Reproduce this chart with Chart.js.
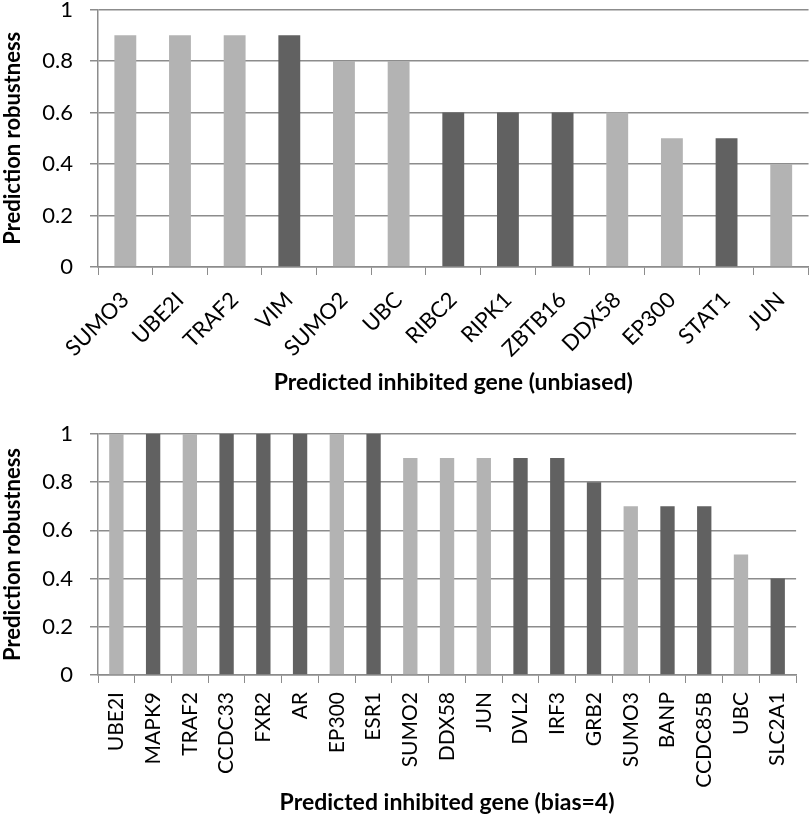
<!DOCTYPE html>
<html>
<head>
<meta charset="utf-8">
<script src="https://cdn.jsdelivr.net/npm/chart.js@4"></script>
<style>
  html, body { margin: 0; padding: 0; background: #fff; }
  body { width: 812px; height: 819px; position: relative; overflow: hidden; }
  .box { position: absolute; left: 0; width: 812px; }
</style>
</head>
<body>
<div class="box" style="top:-21px;height:421px"><canvas id="topChart"></canvas></div>
<div class="box" style="top:400px;height:419px"><canvas id="bottomChart"></canvas></div>
<script>
// unbiased run
const unbiasedGenes = ["SUMO3", "UBE2I", "TRAF2", "VIM", "SUMO2", "UBC", "RIBC2", "RIPK1", "ZBTB16", "DDX58", "EP300", "STAT1", "JUN"];
const unbiasedValues = [0.9, 0.9, 0.9, 0.9, 0.8, 0.8, 0.6, 0.6, 0.6, 0.6, 0.5, 0.5, 0.4];
const unbiasedDark = [0, 0, 0, 1, 0, 0, 1, 1, 1, 0, 0, 1, 0];

// bias=4 run
const biasGenes = ["UBE2I", "MAPK9", "TRAF2", "CCDC33", "FXR2", "AR", "EP300", "ESR1", "SUMO2", "DDX58", "JUN", "DVL2", "IRF3", "GRB2", "SUMO3", "BANP", "CCDC85B", "UBC", "SLC2A1"];
const biasValues = [1, 1, 1, 1, 1, 1, 1, 1, 0.9, 0.9, 0.9, 0.9, 0.9, 0.8, 0.7, 0.7, 0.7, 0.5, 0.4];
const biasDark = [0, 1, 0, 1, 1, 1, 0, 1, 0, 0, 0, 1, 1, 1, 0, 1, 1, 0, 1];

const yTicks = [0, 0.2, 0.4, 0.6, 0.8, 1];

const LIGHT = "#b3b3b3";
const DARK = "#616161";
const GRID = "#8c8c8c";
const FONT = "Lato, 'Liberation Sans', sans-serif";

function makeChart(id, labels, values, dark, opts) {
  const ctx = document.getElementById(id).getContext("2d");
  return new Chart(ctx, {
    type: "bar",
    data: {
      labels: labels,
      datasets: [{
        data: values,
        backgroundColor: dark.map((d) => (d ? DARK : LIGHT)),
        borderWidth: 0,
        barPercentage: opts.barPct,
        categoryPercentage: 1,
      }],
    },
    options: {
      responsive: true,
      maintainAspectRatio: false,
      animation: false,
      layout: { padding: { top: opts.padTop, right: 3, left: 0, bottom: 0 } },
      plugins: { legend: { display: false }, tooltip: { enabled: false } },
      scales: {
        x: {
          afterFit: (scale) => { scale.height = opts.xHeight; },
          grid: { display: true, drawOnChartArea: false, color: GRID, tickLength: 8, offset: true },
          border: { display: true, color: GRID, width: 1.5 },
          ticks: {
            autoSkip: false,
            minRotation: opts.rot,
            maxRotation: opts.rot,
            padding: opts.tickPad,
            color: "#000",
            font: { family: FONT, size: opts.xTickSize },
          },
          title: {
            display: true,
            text: opts.xTitle,
            color: "#000",
            font: { family: FONT, size: 23, weight: "bold" },
            padding: { top: 0, bottom: opts.titlePad },
          },
        },
        y: {
          min: 0,
          max: 1,
          afterFit: (scale) => { scale.width = 98; },
          afterBuildTicks: (scale) => { scale.ticks = yTicks.map((v) => ({ value: v })); },
          grid: { color: GRID, lineWidth: 1.5, tickLength: 8 },
          border: { display: true, color: GRID, width: 1.5 },
          ticks: {
            padding: 17,
            color: "#000",
            font: { family: FONT, size: 22 },
            callback: (v) => String(Math.round(v * 10) / 10),
          },
          title: {
            display: true,
            text: "Prediction robustness",
            color: "#000",
            font: { family: FONT, size: 22, weight: "bold" },
            padding: { top: 0, bottom: 0 },
          },
        },
      },
    },
  });
}

makeChart("topChart", unbiasedGenes, unbiasedValues, unbiasedDark, {
  barPct: 0.4, padTop: 30.5, xHeight: 133, rot: 45, tickPad: 12, xTickSize: 22,
  xTitle: "Predicted inhibited gene (unbiased)", titlePad: 4,
});

makeChart("bottomChart", biasGenes, biasValues, biasDark, {
  barPct: 0.39, padTop: 34, xHeight: 144, rot: 90, tickPad: 9, xTickSize: 21,
  xTitle: "Predicted inhibited gene (bias=4)", titlePad: 3,
});
</script>
</body>
</html>
